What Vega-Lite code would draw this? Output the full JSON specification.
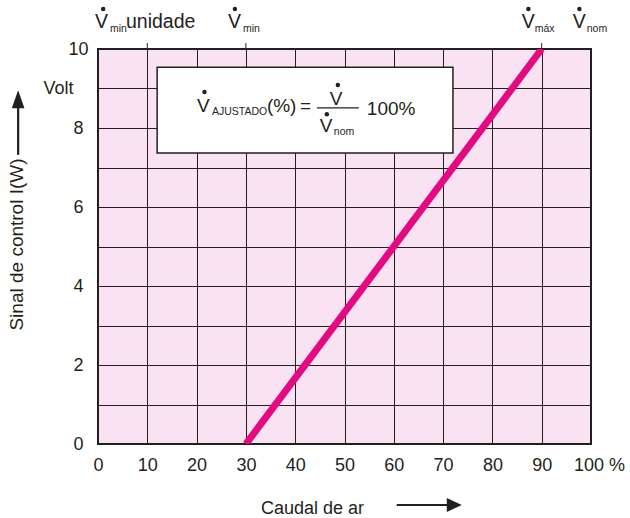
{
  "$schema": "https://vega.github.io/schema/vega-lite/v6.json",
  "width": 493,
  "height": 395,
  "autosize": {"type": "none"},
  "padding": {"left": 98, "top": 49, "right": 39, "bottom": 74},
  "background": "white",
  "config": {
    "view": {"fill": "#F9E3F3", "stroke": "#231F20", "strokeWidth": 2},
    "font": "Liberation Sans",
    "text": {"font": "Liberation Sans", "color": "#231F20"},
    "axis": {
      "labelFont": "Liberation Sans",
      "titleFont": "Liberation Sans",
      "labelColor": "#231F20",
      "titleColor": "#231F20",
      "labelFontSize": 18,
      "titleFontSize": 18,
      "titleFontWeight": "normal",
      "grid": true,
      "gridColor": "#231F20",
      "gridOpacity": 1,
      "gridWidth": 1,
      "ticks": false,
      "tickSize": 0,
      "domain": false,
      "labelFlush": false,
      "labelOverlap": false
    }
  },
  "datasets": {
    "curve": [{"x": 30, "y": 0}, {"x": 90, "y": 10}],
    "box": [{"x": 12, "x2": 72, "y": 9.54, "y2": 7.37}],
    "frac": [{"x": 44.4, "x2": 52.9, "y": 8.51}],
    "ticks": [{"x": 10, "y": 10, "y2": 10.15}, {"x": 30, "y": 10, "y2": 10.15}, {"x": 90, "y": 10, "y2": 10.15}],
    "topText": [
      {"x": -0.6, "y": 10.53, "t": "V"},
      {"x": 5.68, "y": 10.53, "t": "unidade"},
      {"x": 26.35, "y": 10.53, "t": "V"},
      {"x": 85.95, "y": 10.53, "t": "V"},
      {"x": 96.29, "y": 10.53, "t": "V"}
    ],
    "formulaText": [
      {"x": 20.07, "y": 8.41, "t": "V"},
      {"x": 34.26, "y": 8.41, "t": "(%)"},
      {"x": 40.95, "y": 8.41, "t": "="},
      {"x": 47.03, "y": 8.58, "t": "V"},
      {"x": 45.0, "y": 7.9, "t": "V"},
      {"x": 54.53, "y": 8.33, "t": "100%"}
    ],
    "smallText": [
      {"x": 2.43, "y": 10.43, "t": "min"},
      {"x": 29.39, "y": 10.43, "t": "min"},
      {"x": 88.59, "y": 10.43, "t": "máx"},
      {"x": 99.13, "y": 10.43, "t": "nom"},
      {"x": 23.11, "y": 8.33, "t": "AJUSTADO"},
      {"x": 47.84, "y": 7.82, "t": "nom"}
    ],
    "dots": [
      {"x": 1.05, "y": 11.01},
      {"x": 27.77, "y": 11.01},
      {"x": 87.3, "y": 11.01},
      {"x": 97.65, "y": 11.01},
      {"x": 21.6, "y": 8.91},
      {"x": 48.65, "y": 9.09},
      {"x": 46.42, "y": 8.35}
    ],
    "volt": [{"x": -8.0, "y": 9.0, "t": "Volt"}],
    "arrowLines": [
      {"x": -16.2, "x2": -16.2, "y": 7.32, "y2": 8.6},
      {"x": 60.6, "x2": 71.0, "y": -1.544, "y2": -1.544}
    ],
    "arrowUp": [{"x": -16.2, "y": 8.73}],
    "arrowRight": [{"x": 72.27, "y": -1.544}]
  },
  "encoding": {
    "x": {"field": "x", "type": "quantitative", "scale": {"domain": [0, 100], "nice": false, "zero": false},
      "axis": {"values": [0, 10, 20, 30, 40, 50, 60, 70, 80, 90, 100], "labelPadding": 12, "labelAlign": "center",
        "labelExpr": "datum.value == 100 ? '100 %' : datum.label",
        "labelOffset": {"condition": {"test": "datum.value == 100", "value": 8}, "value": 0},
        "title": "Caudal de ar", "titleX": 214, "titleY": 69, "titleBaseline": "alphabetic", "titleAlign": "center", "titleAnchor": null}},
    "y": {"field": "y", "type": "quantitative", "scale": {"domain": [0, 10], "nice": false, "zero": false},
      "axis": {"values": [0, 1, 2, 3, 4, 5, 6, 7, 8, 9, 10], "labelExpr": "datum.value % 2 == 0 ? datum.label : ''",
        "labelAlign": "center", "labelBaseline": "middle", "labelPadding": 20,
        "title": "Sinal de control I(W)", "titleFontSize": 19, "titleAngle": -90, "titleX": -81.5, "titleY": 195,
        "titleAlign": "center", "titleBaseline": "middle", "titleAnchor": null}}
  },
  "layer": [
    {
      "data": {"name": "box"},
      "mark": {"type": "rect", "fill": "white", "stroke": "#231F20", "strokeWidth": 1.5},
      "encoding": {"x2": {"field": "x2"}, "y2": {"field": "y2"}}
    },
    {
      "data": {"name": "curve"},
      "mark": {"type": "line", "color": "#E4097E", "strokeWidth": 7, "clip": true}
    },
    {
      "data": {"name": "ticks"},
      "mark": {"type": "rule", "color": "#231F20", "strokeWidth": 1},
      "encoding": {"y2": {"field": "y2"}}
    },
    {
      "data": {"name": "frac"},
      "mark": {"type": "rule", "color": "#231F20", "strokeWidth": 1.2},
      "encoding": {"x2": {"field": "x2"}}
    },
    {
      "data": {"name": "arrowLines"},
      "mark": {"type": "rule", "color": "#231F20", "strokeWidth": 2.2},
      "encoding": {"x2": {"field": "x2"}, "y2": {"field": "y2"}}
    },
    {
      "data": {"name": "arrowUp"},
      "mark": {"type": "point", "shape": "M0,-1L-0.7,1L0.7,1Z", "filled": true, "opacity": 1, "color": "#231F20", "size": 324}
    },
    {
      "data": {"name": "arrowRight"},
      "mark": {"type": "point", "shape": "M1,0L-1,-0.93L-1,0.93Z", "filled": true, "opacity": 1, "color": "#231F20", "size": 225}
    },
    {
      "data": {"name": "dots"},
      "mark": {"type": "point", "shape": "circle", "filled": true, "opacity": 1, "color": "#231F20", "size": 20}
    },
    {
      "data": {"name": "topText"},
      "mark": {"type": "text", "fontSize": 19.5, "align": "left", "baseline": "alphabetic", "font": "Liberation Sans", "color": "#231F20"},
      "encoding": {"text": {"field": "t"}}
    },
    {
      "data": {"name": "formulaText"},
      "mark": {"type": "text", "fontSize": 19, "align": "left", "baseline": "alphabetic", "font": "Liberation Sans", "color": "#231F20"},
      "encoding": {"text": {"field": "t"}}
    },
    {
      "data": {"name": "smallText"},
      "mark": {"type": "text", "fontSize": 10.5, "align": "left", "baseline": "alphabetic", "font": "Liberation Sans", "color": "#231F20"},
      "encoding": {"text": {"field": "t"}}
    },
    {
      "data": {"name": "volt"},
      "mark": {"type": "text", "fontSize": 18, "align": "center", "baseline": "middle", "font": "Liberation Sans", "color": "#231F20"},
      "encoding": {"text": {"field": "t"}}
    }
  ]
}
